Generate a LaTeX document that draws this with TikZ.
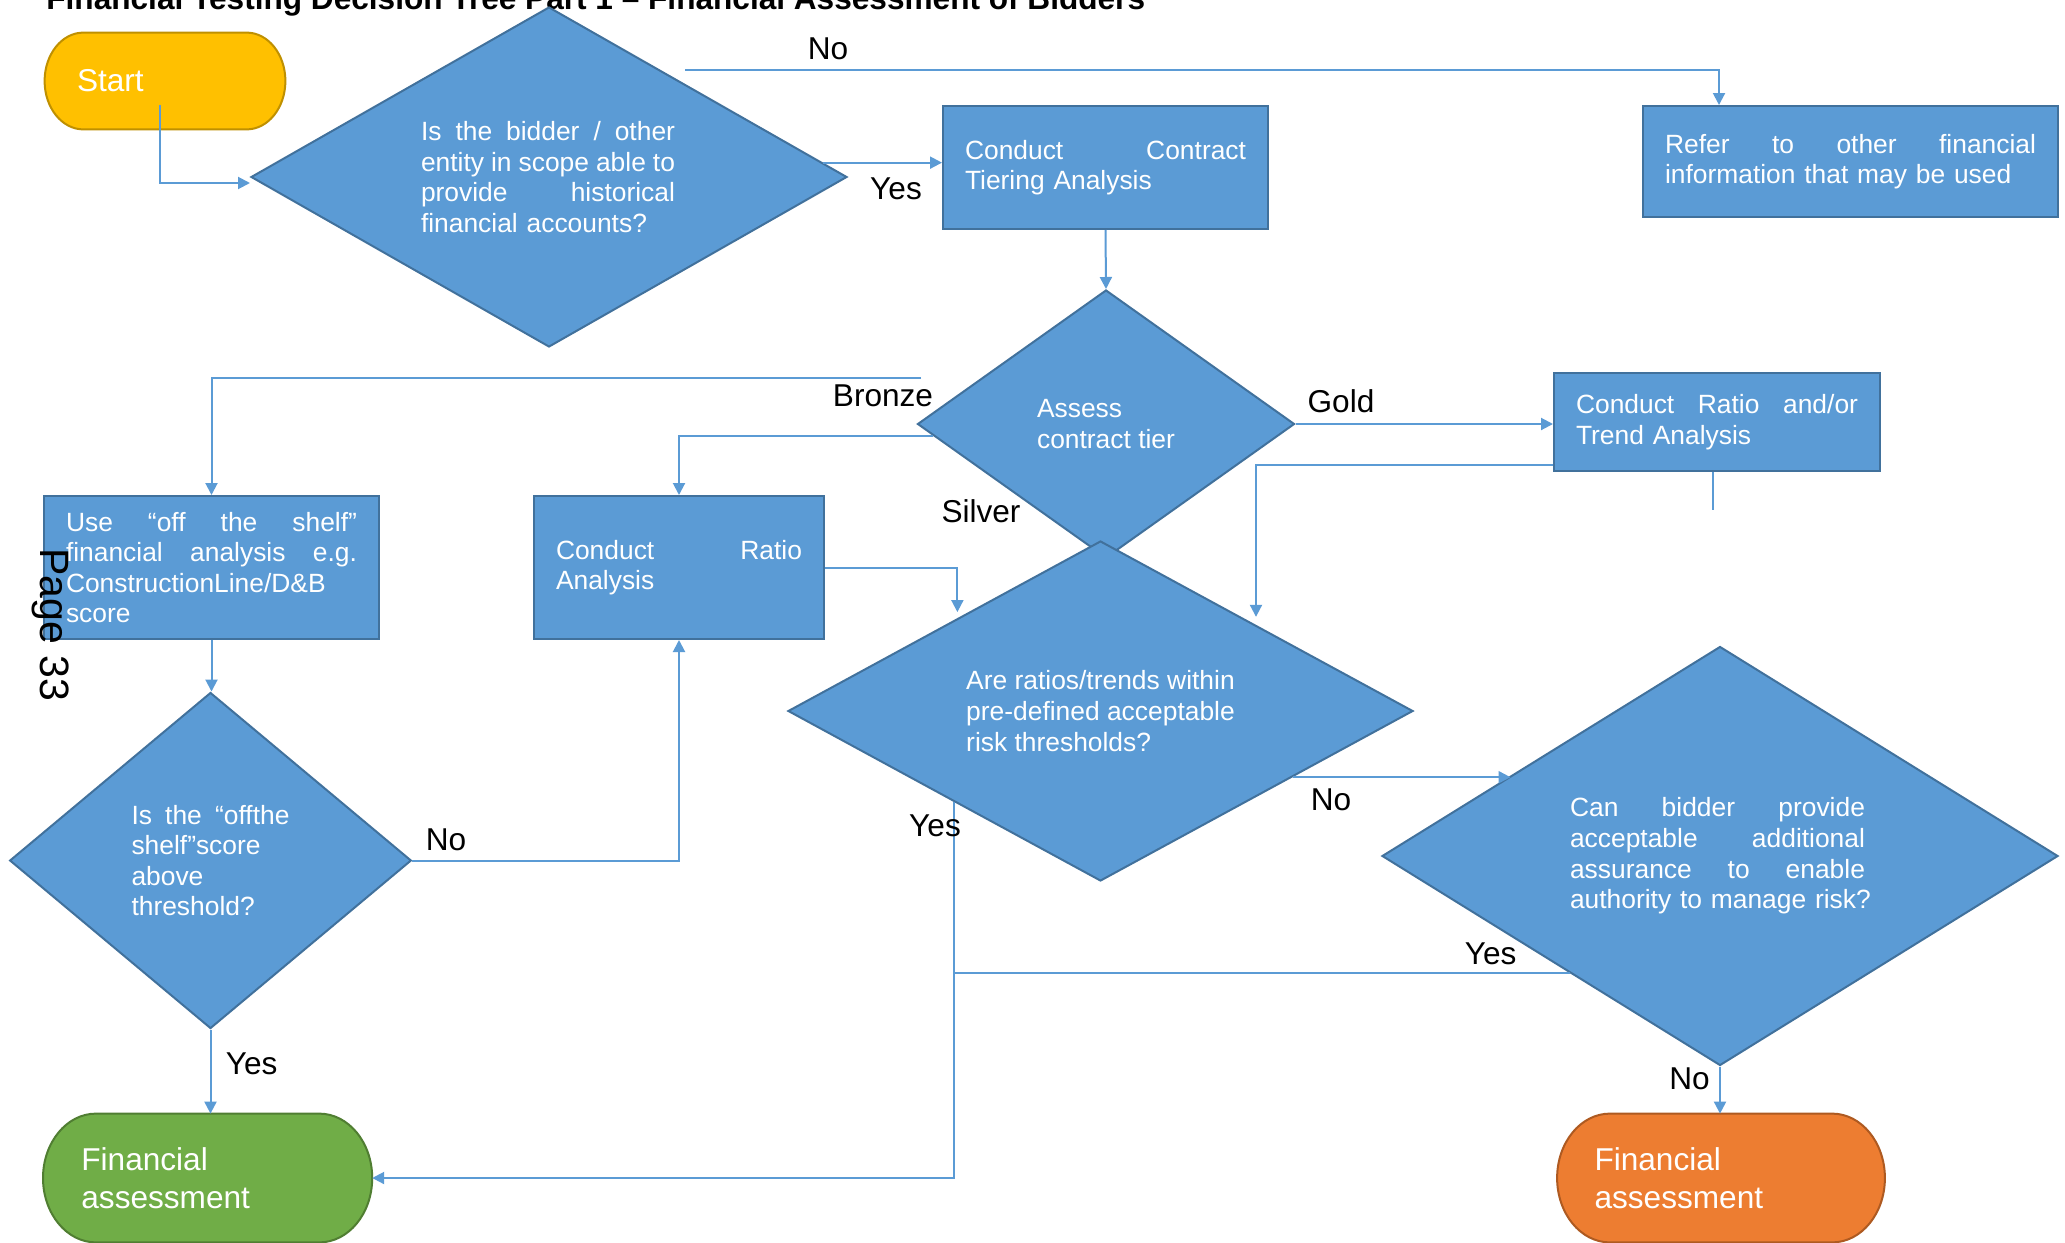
\documentclass[tikz,border=0pt]{standalone}
\usepackage{fontspec}
\setmainfont{Liberation Sans}
\usetikzlibrary{shapes.geometric,arrows.meta,calc,backgrounds}
\definecolor{bfill}{HTML}{5B9BD5}
\definecolor{bdraw}{HTML}{41719C}
\definecolor{connc}{HTML}{5B9BD5}
\definecolor{yfill}{HTML}{FFC000}
\definecolor{ydraw}{HTML}{BF9000}
\definecolor{gfill}{HTML}{70AD47}
\definecolor{gdraw}{HTML}{507E32}
\definecolor{ofill}{HTML}{ED7D31}
\definecolor{odraw}{HTML}{AE5A21}
% justified line: words separated by \hfill
\newcommand\J[2]{\leavevmode\hbox to #1{#2}}
\newcommand\termshape[3]{%
  \path[fill=#2, draw=#3, line width=1pt] let \p1=(#1.north west), \p2=(#1.south east),
    \n1={0.161*(\x2-\x1)}, \n2={(\y1-\y2)/2} in
    (\x1+\n1,\y1) -- (\x2-\n1,\y1)
    arc[start angle=90, end angle=-90, x radius={(\n1)*1pt}, y radius={(\n2)*1pt}]
    -- (\x1+\n1,\y2)
    arc[start angle=270, end angle=90, x radius={(\n1)*1pt}, y radius={(\n2)*1pt}]
    -- cycle;}
\tikzset{
  boxn/.style={rectangle, draw=bdraw, fill=bfill, line width=1pt, text=white,
    font=\fontsize{13.2}{15.3}\selectfont, align=left, inner xsep=11pt, inner ysep=0pt},
  dian/.style={diamond, draw=bdraw, fill=bfill, line width=1pt, text=white,
    font=\fontsize{13.2}{15.3}\selectfont, align=left, inner sep=0pt},
  termn/.style={rectangle, text=white, font=\fontsize{15.8}{19}\selectfont,
    align=left, inner ysep=0pt},
  lbl/.style={font=\fontsize{15.8}{19}\selectfont, inner sep=0pt},
  conn/.style={draw=connc, line width=1pt},
  arr/.style={conn, -{Triangle[length=6pt,width=6pt]}},
}
\begin{document}
\begin{tikzpicture}[x=0.5pt,y=-0.5pt]
\useasboundingbox (0,0) rectangle (2065,1242);

% title
\node[font=\fontsize{15.8}{19}\selectfont\bfseries, anchor=base west, inner sep=0pt] (title) at (46,10)
  {Financial Testing Decision Tree Part 1 – Financial Assessment of Bidders};

% terminals
\node[termn, text width=88pt, inner xsep=16pt, minimum height=48pt] (Start) at (165,81) {Start};
\node[termn, text width=126.2pt, inner xsep=19pt, minimum height=64pt] (G) at (207.6,1178) {Financial\\assessment};
\node[termn, text width=126.5pt, inner xsep=18.5pt, minimum height=64pt] (O) at (1721,1178) {Financial\\assessment};

% decisions and processes
\node[dian, aspect=1.75, text width=128pt, minimum width=298pt, minimum height=170pt] (D1) at (549,177)
  {\J{127pt}{Is\hfill the\hfill bidder\hfill /\hfill other}\\
   \J{127pt}{entity\hfill in\hfill scope\hfill able\hfill to}\\
   \J{127pt}{provide\hfill historical}\\
   financial accounts?};
\node[boxn, text width=140.5pt, minimum height=61.5pt] (B1) at (1105.5,167.5)
  {\J{140.5pt}{Conduct\hfill Contract}\\Tiering Analysis};
\node[boxn, text width=185.5pt, minimum height=55.5pt] (B2) at (1850.5,161.5)
  {\J{185.5pt}{Refer\hfill to\hfill other\hfill financial}\\information that may be used};
\node[dian, aspect=1.41, minimum width=188.5pt, minimum height=134pt] (D2) at (1106,424)
  {Assess\\contract tier};
\node[boxn, text width=141pt, minimum height=49pt] (B3) at (1717,422)
  {\J{141pt}{Conduct\hfill Ratio\hfill and/or}\\Trend Analysis};
\node[boxn, text width=145.5pt, minimum height=71.5pt] (B4) at (211.5,567.5)
  {\J{145.5pt}{Use\hfill “off\hfill the\hfill shelf”}\\
   \J{145.5pt}{financial\hfill analysis\hfill e.g.}\\
   ConstructionLine/D\&B\\score};
\node[boxn, text width=123pt, minimum height=71.5pt] (B5) at (679,567.5)
  {\J{123pt}{Conduct\hfill Ratio}\\Analysis};
\node[dian, aspect=1.84, minimum width=312.5pt, minimum height=170pt] (D3) at (1100.5,711)
  {Are ratios/trends within\\pre-defined acceptable\\risk thresholds?};
\node[dian, aspect=1.61, text width=150pt, minimum width=338pt, minimum height=209.5pt] (D4) at (1720,856)
  {\J{147.5pt}{Can\hfill bidder\hfill provide}\\
   \J{147.5pt}{acceptable\hfill additional}\\
   \J{147.5pt}{assurance\hfill to\hfill enable}\\
   \mbox{authority to manage risk?}};
\node[dian, aspect=1.2, text width=79pt, minimum width=200.8pt, minimum height=168pt] (D5) at (210.5,860.5)
  {\J{79pt}{Is\hfill the\hfill “offthe}\\shelf”score\\above\\threshold?};

\begin{pgfonlayer}{background}
  \fill[white] (0,0) rectangle (2065,1242);
  \termshape{Start}{yfill}{ydraw}
  \termshape{G}{gfill}{gdraw}
  \termshape{O}{ofill}{odraw}
\end{pgfonlayer}

% connectors
\coordinate (s0) at (159.6,105);
\draw[arr] (s0) |- ($(D1.west)+(0,6)$);
\coordinate (nofree) at (685,70);
\draw[arr] (nofree) -| ($(B2.north west)+(77,0)$);
\draw[arr] (D1.3) -- (D1.3 -| B1.west);
\draw[arr] (B1.south) -- (D2.north);
\draw[arr] (D2.east) -- (D2.east -| B3.west);
\coordinate (bzfree) at (921,378);
\draw[arr] (bzfree) -| (B4.north);
\draw[arr] (D2.184) -| (B5.north);
\draw[arr, shorten >=3pt] (B5.east) -| (D3.147);
\draw[arr, shorten >=4pt] ($(B3.south west)+(0,-7)$) -| (D3.29);
\coordinate (stub) at (1713,510);
\draw[conn] (stub |- B3.south) -- (stub);
\draw[arr] (D3.341) -- (D3.341 -| D4.159);
\draw[arr] (D3.212) |- (G.east);
\draw[conn] (D4.218) -- (D4.218 -| D3.212);
\draw[arr] (D4.south) -- (D4.south |- O.north);
\draw[arr] (D5.east) -| (B5.south);
\draw[arr] (D5.south) -- (D5.south |- G.north);
\draw[arr] (B4.south) -- (B4.south |- D5.north);

% labels
\node[lbl] (l1) at (828,49) {No};
\node[lbl] (l2) at (896,189) {Yes};
\node[lbl] (l3) at (883,396) {Bronze};
\node[lbl] (l4) at (1341,401) {Gold};
\node[lbl] (l5) at (981,511) {Silver};
\node[lbl] (l6) at (1331,800) {No};
\node[lbl] (l7) at (935,826) {Yes};
\node[lbl] (l8) at (1490.6,954) {Yes};
\node[lbl] (l9) at (1689.5,1079) {No};
\node[lbl] (l10) at (446,840) {No};
\node[lbl] (l11) at (251.6,1064) {Yes};

% page mark (on top)
\node[font=\fontsize{20.5}{24}\selectfont, rotate=-90, anchor=base west, inner sep=0pt] (page) at (40,548) {Page 33};
\end{tikzpicture}
\end{document}
